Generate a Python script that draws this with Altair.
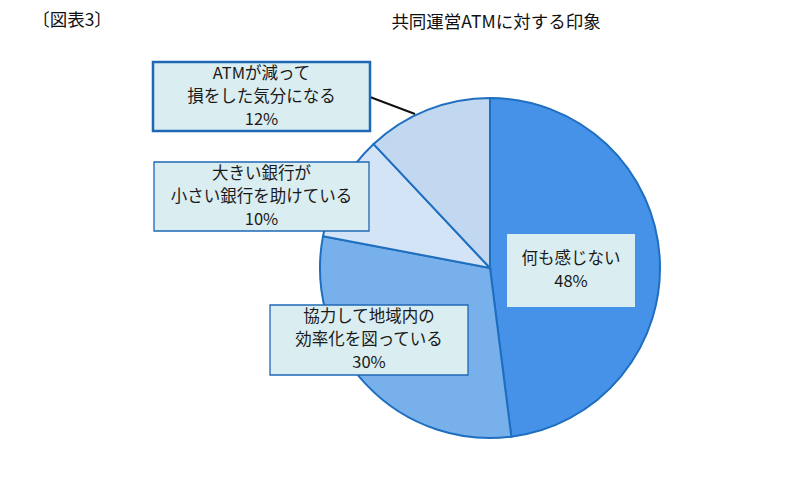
import altair as alt
import pandas as pd

# slices, clockwise from 12 o'clock
labels = ['何も感じない', '協力して地域内の\n効率化を図っている', '大きい銀行が\n小さい銀行を助けている', 'ATMが減って\n損をした気分になる']
shares = [48, 30, 10, 12]
fills = ['#4592e8', '#78b0ec', '#d3e4f6', '#c2d8f1']

# label boxes (chart px): left, top, right, bottom, border width
box_x0 = [499, 262, 146, 145]
box_y0 = [226, 297, 154, 54]
box_x1 = [627, 460, 361, 362]
box_y1 = [299, 367, 223, 123]
box_bw = [0, 1.3, 1.3, 2.5]

FONT = 'Noto Sans CJK JP'
OFF = 8  # page margin

pie = pd.DataFrame({'label': labels, 'share': shares, 'order': range(4), 'fill': fills})
pie['text'] = [l + '\n' + f'{s}%' for l, s in zip(labels, shares)]
pie['x0'], pie['y0'], pie['x1'], pie['y1'], pie['bw'] = box_x0, box_y0, box_x1, box_y1, box_bw
pie['cx'] = (pie['x0'] + pie['x1']) / 2
pie['cy'] = (pie['y0'] + pie['y1']) / 2
pie['n'] = pie['text'].str.count('\n') + 1
pie['ty'] = pie['cy'] - (pie['n'] - 1) * 11.5

base = alt.Chart(pie)

arcs = base.mark_arc(stroke='#1f6fc0', strokeWidth=2, radius=170).encode(
    theta=alt.Theta('share:Q', stack=True),
    order=alt.Order('order:Q'),
    fill=alt.Fill('fill:N', scale=None),
    x=alt.value(490 - OFF),
    y=alt.value(268 - OFF),
)

leader = alt.Chart(pd.DataFrame({'a': [0]})).mark_rule(color='#111', strokeWidth=2).encode(
    x=alt.value(370 - OFF), y=alt.value(97 - OFF),
    x2=alt.value(415 - OFF), y2=alt.value(114 - OFF),
)

boxes = base.mark_rect(fill='#daedf1', stroke='#1f68b4').encode(
    x=alt.X('x0:Q', scale=None), x2='x1:Q',
    y=alt.Y('y0:Q', scale=None), y2='y1:Q',
    strokeWidth=alt.StrokeWidth('bw:Q', scale=None),
)

texts = base.mark_text(font=FONT, fontSize=16.5, color='#1a1a1a', lineBreak='\n',
                       lineHeight=23, baseline='middle').encode(
    x=alt.X('cx:Q', scale=None),
    y=alt.Y('ty:Q', scale=None),
    text='text:N',
)

heads = alt.Chart(pd.DataFrame({
    't': ['〔図表3〕', '共同運営ATMに対する印象'],
    'x': [72 - OFF, 496 - OFF],
    'y': [21 - OFF, 23 - OFF],
})).mark_text(font=FONT, fontSize=17.5, color='#111', baseline='middle').encode(
    x=alt.X('x:Q', scale=None), y=alt.Y('y:Q', scale=None), text='t:N'
)

chart = (
    alt.layer(arcs, leader, boxes, texts, heads)
    .properties(width=791, height=479, padding=0, autosize='none', background='white')
    .configure_view(stroke=None)
)

chart.save("out.html", embed_options={"renderer": "svg", "actions": False})
